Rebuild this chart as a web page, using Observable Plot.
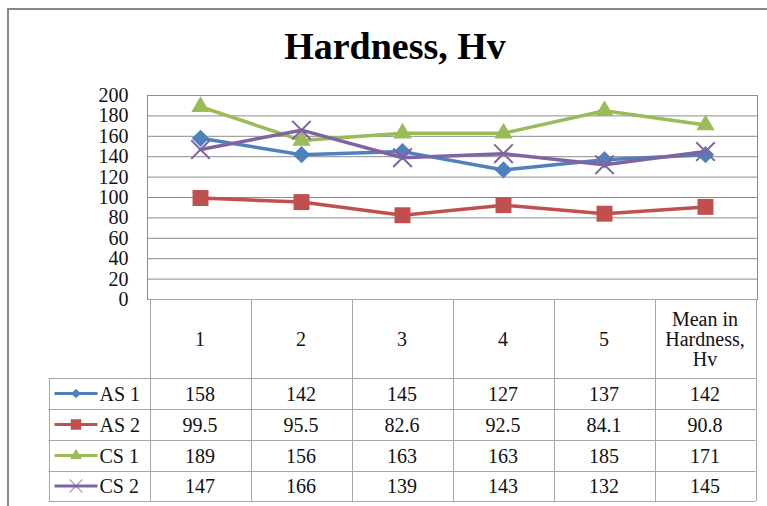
<!DOCTYPE html>
<html>
<head>
<meta charset="utf-8">
<script src="https://cdn.jsdelivr.net/npm/d3@7"></script>
<script src="https://cdn.jsdelivr.net/npm/@observablehq/plot@0.6"></script>
<style>
  html, body { margin: 0; padding: 0; background: #fff; }
  #wrap { position: relative; width: 767px; height: 506px; overflow: hidden; background: #fff; }
  #border { position: absolute; left: 7px; top: 8px; width: 800px; height: 520px; border-left: 2px solid #888; border-top: 2px solid #888; box-sizing: border-box; }
  #title { position: absolute; left: 145px; width: 500px; top: 27px; line-height: 38px; font-size: 38px; font-weight: bold; text-align: center; color: #000; font-family: "Liberation Serif", serif; }
  #chart { position: absolute; left: 0; top: 0; }
  #chart svg text { font-family: "Liberation Serif", "Times New Roman", serif !important; }
</style>
</head>
<body>
<div id="wrap">
  <div id="border"></div>
  <div id="title">Hardness, Hv</div>
  <div id="chart"></div>
</div>
<script>
// ---- data ----
const categories = ["1", "2", "3", "4", "5", "Mean in Hardness, Hv"];
const categoryLines = [["1"], ["2"], ["3"], ["4"], ["5"], ["Mean in", "Hardness,", "Hv"]];
const seriesNames = ["AS 1", "AS 2", "CS 1", "CS 2"];
const as1 = [158, 142, 145, 127, 137, 142];
const as2 = [99.5, 95.5, 82.6, 92.5, 84.1, 90.8];
const cs1 = [189, 156, 163, 163, 185, 171];
const cs2 = [147, 166, 139, 143, 132, 145];
const yTicks = [0, 20, 40, 60, 80, 100, 120, 140, 160, 180, 200];

const seriesValues = [as1, as2, cs1, cs2];
const colors = ["#4F81BD", "#C0504D", "#9BBB59", "#8064A2"];
const symbols = ["diamond2", "square", "triangle", "times"];
const radii = [7.8, 9, 6.8, 8.5];
const FONT = "'Liberation Serif', 'Times New Roman', serif";

const rows = [];
seriesNames.forEach((s, i) => categories.forEach((c, j) => rows.push({series: s, cat: c, value: seriesValues[i][j]})));

const marks = [
  Plot.ruleY(yTicks, {y: d => d, stroke: "#8c8c8c", strokeWidth: 1, strokeOpacity: 1}),
  Plot.frame({stroke: "#8c8c8c", strokeWidth: 1}),
  Plot.axisY({ticks: yTicks, tickSize: 0, tickPadding: 19, fontSize: 20, fill: "#111", fontFamily: FONT, tickFormat: d => String(d), label: null})
];
seriesNames.forEach((s, i) => {
  const data = rows.filter(r => r.series === s);
  marks.push(Plot.line(data, {x: "cat", y: "value", stroke: colors[i], strokeWidth: 3.5}));
  if (symbols[i] === "times") {
    marks.push(Plot.dot(data, {x: "cat", y: "value", symbol: "times", r: radii[i], stroke: colors[i], strokeWidth: 2}));
  } else {
    marks.push(Plot.dot(data, {x: "cat", y: "value", symbol: symbols[i], r: radii[i], fill: colors[i], stroke: "none"}));
  }
});

const chart = Plot.plot({
  width: 767,
  height: 506,
  marginTop: 95,
  marginBottom: 207,
  marginLeft: 147,
  marginRight: 10,
  style: {background: "transparent", fontFamily: FONT, overflow: "visible"},
  x: {type: "point", domain: categories, padding: 0.5, axis: null},
  y: {domain: [0, 200], axis: null, label: null},
  marks
});
document.getElementById("chart").appendChild(chart);

// ---- data table, positioned from the chart's own scales ----
const xs = chart.scale("x"), ys = chart.scale("y");
const cx = categories.map(c => xs.apply(c));
const half = (cx[1] - cx[0]) / 2;
const colEdges = [...cx.map(x => x - half), cx[cx.length - 1] + half];
const legLeft = colEdges[0] - 101;
const tableTop = ys.apply(0);
const rowEdges = [tableTop, tableTop + 79, tableTop + 110, tableTop + 141, tableTop + 172, tableTop + 202];
const g = d3.select(chart).append("g").attr("class", "datatable");
const lineCol = "#a6a6a6";
const hl = (x1, x2, y) => g.append("line").attr("x1", x1).attr("x2", x2).attr("y1", Math.round(y) + 0.5).attr("y2", Math.round(y) + 0.5).attr("stroke", lineCol);
const vl = (x, y1, y2) => g.append("line").attr("x1", Math.round(x) + 0.5).attr("x2", Math.round(x) + 0.5).attr("y1", y1).attr("y2", y2).attr("stroke", lineCol);
hl(colEdges[0], colEdges[colEdges.length - 1], rowEdges[0]);
for (let k = 1; k < rowEdges.length; k++) hl(legLeft, colEdges[colEdges.length - 1], rowEdges[k]);
colEdges.forEach(x => vl(x, rowEdges[0], rowEdges[rowEdges.length - 1]));
vl(legLeft, rowEdges[1], rowEdges[rowEdges.length - 1]);

const txt = (x, y, s, anchor) => g.append("text").attr("x", x).attr("y", y).attr("text-anchor", anchor || "middle")
  .style("font-family", FONT).style("font-size", "20px").attr("fill", "#111").text(s);
const hMid = (rowEdges[0] + rowEdges[1]) / 2;
categoryLines.forEach((lines, j) => {
  const n = lines.length;
  lines.forEach((s, k) => txt(cx[j], hMid + 7 + (k - (n - 1) / 2) * 20, s));
});
const symMap = {diamond2: d3.symbolDiamond2, square: d3.symbolSquare, triangle: d3.symbolTriangle, times: d3.symbolTimes};
const swSizes = {diamond2: 60, square: 110, triangle: 60, times: 110};
seriesNames.forEach((s, i) => {
  const mid = (rowEdges[i + 1] + rowEdges[i + 2]) / 2;
  const sx0 = legLeft + 6, sx1 = legLeft + 49;
  g.append("line").attr("x1", sx0).attr("x2", sx1).attr("y1", mid).attr("y2", mid).attr("stroke", colors[i]).attr("stroke-width", 3);
  const p = g.append("path").attr("transform", `translate(${(sx0 + sx1) / 2},${mid})`).attr("d", d3.symbol(symMap[symbols[i]], swSizes[symbols[i]])());
  if (symbols[i] === "times") p.attr("fill", "none").attr("stroke", colors[i]).attr("stroke-width", 1.5).attr("stroke-opacity", 0.6);
  else p.attr("fill", colors[i]);
  txt(sx1 + 2, mid + 7, s, "start");
  seriesValues[i].forEach((v, j) => txt(cx[j], mid + 7, String(v)));
});
</script>
</body>
</html>
